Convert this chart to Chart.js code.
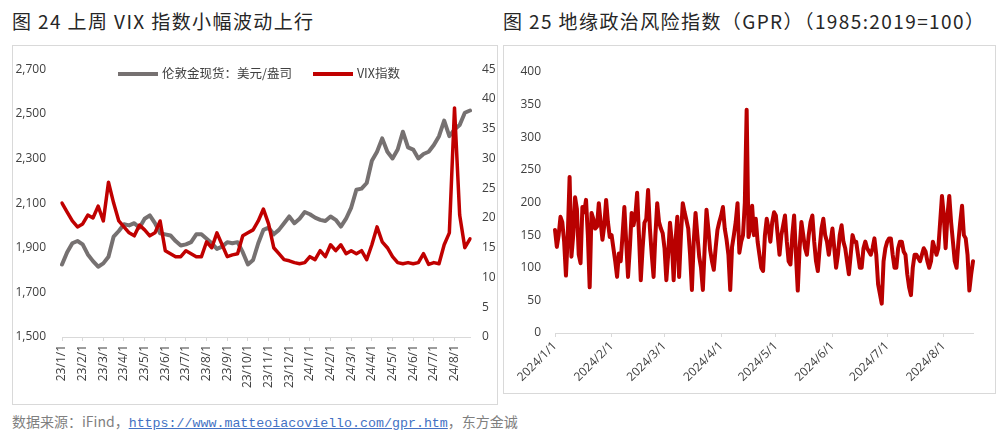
<!DOCTYPE html>
<html lang="zh">
<head>
<meta charset="UTF-8">
<title>VIX 与 GPR</title>
<script src="https://cdn.jsdelivr.net/npm/chart.js"></script>
<style>
  body { margin: 0; width: 1004px; height: 445px; background: #fff; position: relative; overflow: hidden;
         font-family: "Noto Sans CJK SC", sans-serif; }
  .title { position: absolute; top: 7px; font-size: 19px; letter-spacing: 1.4px; color: #262626; white-space: nowrap; }
  .box { position: absolute; border: 1px solid #d9d9d9; box-sizing: border-box; }
  .wrap { position: absolute; }
  .legend { position: absolute; font-size: 12.5px; color: #404040; white-space: nowrap; line-height: 16px; }
  .sw { display: inline-block; width: 40px; height: 4px; vertical-align: middle; margin-right: 4px; position: relative; top: -1px; }
  .source { position: absolute; left: 12px; top: 411px; font-size: 14px; color: #7f7f7f; white-space: nowrap; }
  .source a { color: #4472c4; font-family: "Liberation Mono", monospace; font-size: 13.3px; text-decoration: underline; }
</style>
</head>
<body>
  <div class="title" style="left:12px">图 24 上周 VIX 指数小幅波动上行</div>
  <div class="title" style="left:503px">图 25 地缘政治风险指数（GPR）（1985:2019=100）</div>

  <div class="box" style="left:12px; top:45px; width:486px; height:360px"></div>
  <div class="box" style="left:503px; top:45px; width:493px; height:349px"></div>

  <div class="wrap" style="left:13px; top:46px; width:484px; height:358px">
    <canvas id="vixChart"></canvas>
  </div>
  <div class="legend" style="left:118px; top:65px">
    <span class="sw" style="background:#767171"></span>伦敦金现货：美元/盎司<span class="sw" style="background:#c00000; margin-left:21px"></span>VIX指数
  </div>

  <div class="wrap" style="left:504px; top:46px; width:491px; height:347px">
    <canvas id="gprChart"></canvas>
  </div>

  <div class="source">数据来源：iFind，<a>https://www.matteoiacoviello.com/gpr.htm</a>，东方金诚</div>

<script>
// 左图：月度刻度，每月 4 个周度数据点
const monthLabels = ['23/1/1', '23/2/1', '23/3/1', '23/4/1', '23/5/1', '23/6/1', '23/7/1', '23/8/1', '23/9/1', '23/10/1',
                     '23/11/1', '23/12/1', '24/1/1', '24/2/1', '24/3/1', '24/4/1', '24/5/1', '24/6/1', '24/7/1', '24/8/1'];

// 伦敦金现货：美元/盎司
const goldPrice = [
  1825, 1880, 1920, 1930,
  1915, 1870, 1840, 1815,
  1830, 1860, 1950, 1975,
  2005, 2000, 2010, 1990,
  2030, 2045, 2010, 1965,
  1960, 1955, 1930, 1910,
  1915, 1925, 1960, 1960,
  1940, 1920, 1895, 1905,
  1925, 1920, 1925, 1880,
  1825, 1845, 1920, 1980,
  1990, 1960, 1980, 2010,
  2040, 2010, 2030, 2060,
  2050, 2035, 2025, 2020,
  2040, 2025, 1995, 2030,
  2080, 2160, 2165, 2190,
  2290, 2330, 2390, 2330,
  2300, 2340, 2420, 2350,
  2340, 2300, 2320, 2330,
  2360, 2400, 2470, 2400,
  2430, 2450, 2505, 2515
];

// VIX 指数
const vixIndex = [
  22.5, 21.0, 19.5, 18.5,
  19.0, 20.5, 20.0, 22.0,
  19.5, 26.0, 22.5, 19.5,
  18.5, 17.5, 17.0, 18.8,
  18.0, 17.0, 17.5, 19.5,
  14.5, 14.0, 13.5, 13.5,
  14.5, 14.0, 13.5, 13.5,
  16.0, 15.0, 17.5, 15.5,
  13.5, 13.8, 14.0, 17.0,
  17.5, 18.0, 19.5, 21.5,
  19.0, 15.0, 14.0, 13.0,
  12.8, 12.5, 12.3, 12.5,
  13.5, 13.0, 14.5, 13.5,
  15.5, 14.5, 15.5, 14.0,
  14.5, 14.0, 14.5, 13.0,
  15.5, 18.5, 16.0, 15.0,
  13.5, 12.5, 12.3, 12.5,
  12.3, 12.5, 14.0, 12.2,
  12.5, 12.3, 15.5, 17.5,
  38.5, 20.5, 15.0, 16.5
];

// 右图：GPR 日度数据，自 2024/1/1 起
const gprValues = [
  158, 132, 150, 178, 170, 140, 88,
  150, 239, 117, 150, 208, 190, 120,
  107, 193, 185, 204, 150, 70, 184,
  175, 160, 163, 199, 170, 143, 165,
  204, 170, 147, 150, 130, 110, 86,
  122, 110, 150, 193, 140, 86, 130,
  184, 165, 180, 215, 150, 81, 130,
  169, 175, 219, 160, 120, 86, 150,
  199, 170, 160, 153, 130, 81, 120,
  169, 140, 81, 140, 178, 86, 150,
  199, 185, 173, 160, 120, 66, 140,
  184, 150, 117, 100, 66, 130, 189,
  160, 127, 110, 97, 130, 158, 170,
  180, 193, 160, 143, 120, 66, 132,
  150, 170, 199, 123, 140, 150, 200,
  342, 147, 160, 195, 150, 175, 140,
  120, 100, 95, 150, 175, 160, 140,
  170, 185, 180, 150, 120, 150, 165,
  180, 140, 110, 105, 150, 180, 120,
  65, 130, 170, 150, 130, 120, 150,
  170, 180, 140, 110, 95, 130, 160,
  175, 150, 140, 120, 140, 160, 130,
  100, 120, 150, 165, 140, 130, 110,
  90, 120, 150, 140, 140, 120, 100,
  100, 130, 140, 130, 125, 120, 130,
  145, 120, 75, 60, 45, 110, 130,
  140, 145, 145, 120, 100, 100, 130,
  140, 140, 125, 120, 90, 70, 58,
  100, 120, 120, 115, 110, 120, 130,
  125, 110, 100, 110, 140, 130, 120,
  130, 170, 210, 180, 130, 180, 210,
  170, 140, 110, 100, 140, 170, 195,
  150, 145, 120, 65, 90, 110
];

const weekLabels = monthLabels.flatMap(m => [m, '', '', '']).slice(0, goldPrice.length);
const gprLabels = gprValues.map((v, i) => {
  const d = new Date(2024, 0, 1 + i);
  return d.getFullYear() + '/' + (d.getMonth() + 1) + '/' + d.getDate();
});

const tickFont = { family: '"Open Sans", sans-serif', size: 12 };
const tickColor = '#404040';

new Chart(document.getElementById('vixChart'), {
  type: 'line',
  data: {
    labels: weekLabels,
    datasets: [
      {
        label: '伦敦金现货：美元/盎司',
        data: goldPrice,
        borderColor: '#767171',
        borderWidth: 4,
        pointRadius: 0,
        yAxisID: 'y',
        order: 2
      },
      {
        label: 'VIX指数',
        data: vixIndex,
        borderColor: '#c00000',
        borderWidth: 3.5,
        pointRadius: 0,
        yAxisID: 'y1',
        order: 1
      }
    ]
  },
  options: {
    responsive: true,
    maintainAspectRatio: false,
    animation: false,
    layout: { padding: { top: 20, left: 0, right: 0, bottom: 0 } },
    elements: { line: { borderJoinStyle: 'round', borderCapStyle: 'round', tension: 0 } },
    plugins: { legend: { display: false }, tooltip: { enabled: false } },
    scales: {
      x: {
        type: 'category',
        offset: false,
        grid: { display: true, drawOnChartArea: false, drawTicks: true, tickLength: 4, color: '#d9d9d9' },
        border: { display: true, color: '#d9d9d9' },
        afterBuildTicks: axis => { axis.ticks = axis.ticks.filter(t => weekLabels[t.value] !== ''); },
        afterFit: axis => { axis.height = 67; },
        ticks: {
          autoSkip: false, maxRotation: 90, minRotation: 90, padding: 4,
          font: tickFont, color: tickColor,
          callback: function (value) { return this.getLabelForValue(value); }
        }
      },
      y: {
        position: 'left',
        min: 1500, max: 2700,
        grid: { display: false, drawTicks: false },
        border: { display: false },
        afterFit: axis => { axis.width = 49; },
        ticks: {
          stepSize: 200, padding: 16, font: tickFont, color: tickColor,
          callback: v => v.toLocaleString('en-US')
        }
      },
      y1: {
        position: 'right',
        min: 0, max: 45,
        grid: { display: false, drawTicks: false },
        border: { display: false },
        afterFit: axis => { axis.width = 27; },
        ticks: { stepSize: 5, padding: 12, font: tickFont, color: tickColor }
      }
    }
  }
});

new Chart(document.getElementById('gprChart'), {
  type: 'line',
  data: {
    labels: gprLabels,
    datasets: [{
      label: 'GPR',
      data: gprValues,
      borderColor: '#b90000',
      borderWidth: 4,
      pointRadius: 0
    }]
  },
  options: {
    responsive: true,
    maintainAspectRatio: false,
    animation: false,
    layout: { padding: { top: 26, left: 0, right: 22, bottom: 0 } },
    elements: { line: { borderJoinStyle: 'round', borderCapStyle: 'round', tension: 0 } },
    plugins: { legend: { display: false }, tooltip: { enabled: false } },
    scales: {
      x: {
        type: 'category',
        offset: false,
        grid: { display: true, drawOnChartArea: false, drawTicks: true, tickLength: 4, color: '#d9d9d9' },
        border: { display: true, color: '#d9d9d9' },
        afterBuildTicks: axis => { axis.ticks = axis.ticks.filter(t => gprLabels[t.value].endsWith('/1')); },
        afterFit: axis => { axis.height = 60; },
        ticks: {
          autoSkip: false, maxRotation: 45, minRotation: 45, padding: 2,
          font: tickFont, color: tickColor,
          callback: function (value) { return this.getLabelForValue(value); }
        }
      },
      y: {
        min: 0, max: 400,
        grid: { display: false, drawTicks: false },
        border: { display: false },
        afterFit: axis => { axis.width = 51; },
        ticks: { stepSize: 50, padding: 14, font: tickFont, color: tickColor }
      }
    }
  }
});
</script>
</body>
</html>
